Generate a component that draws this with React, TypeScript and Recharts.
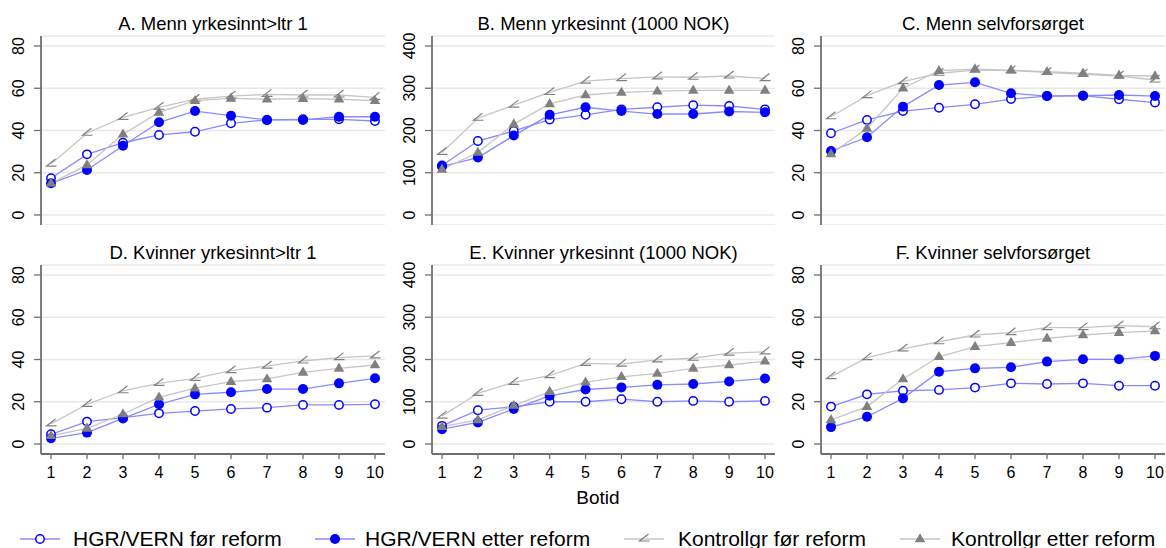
import React from "react";
import { LineChart, Line, XAxis, YAxis, CartesianGrid } from "recharts";

const botid = [1, 2, 3, 4, 5, 6, 7, 8, 9, 10];
const pctTicks = [0, 20, 40, 60, 80];
const nokTicks = [0, 100, 200, 300, 400];

const seriesNames = [
  "HGR/VERN før reform",
  "HGR/VERN etter reform",
  "Kontrollgr før reform",
  "Kontrollgr etter reform",
];

const panelTitles = [
  "A. Menn yrkesinnt>ltr 1",
  "B. Menn yrkesinnt (1000 NOK)",
  "C. Menn selvforsørget",
  "D. Kvinner yrkesinnt>ltr 1",
  "E. Kvinner yrkesinnt (1000 NOK)",
  "F. Kvinner selvforsørget",
];

// A. Menn yrkesinnt>ltr 1
const aHgrFor = [17.4, 28.7, 34.2, 37.9, 39.4, 43.4, 45.0, 45.3, 45.3, 44.5];
const aHgrEtter = [15.0, 21.3, 32.8, 43.9, 49.2, 47.0, 45.0, 45.0, 46.5, 46.5];
const aKtrFor = [24.1, 38.7, 46.2, 51.0, 54.8, 56.3, 57.1, 56.8, 56.8, 55.7];
const aKtrEtter = [15.0, 23.7, 38.2, 48.6, 54.1, 55.2, 54.8, 55.1, 54.8, 54.1];

// B. Menn yrkesinnt (1000 NOK)
const bHgrFor = [117, 175, 199, 226, 237, 250, 255, 260, 258, 250];
const bHgrEtter = [115, 136, 188, 237, 255, 246, 239, 239, 245, 243];
const bKtrFor = [148, 229, 260, 290, 317, 323, 327, 326, 329, 323];
const bKtrEtter = [108, 148, 215, 263, 284, 290, 293, 295, 295, 295];

// C. Menn selvforsørget
const cHgrFor = [38.7, 45.0, 49.2, 50.8, 52.4, 54.9, 56.3, 56.5, 54.8, 53.2];
const cHgrEtter = [30.3, 36.8, 51.3, 61.5, 62.8, 57.6, 56.3, 56.5, 56.8, 56.3];
const cKtrFor = [46.5, 56.5, 63.1, 67.1, 68.6, 68.3, 67.5, 66.6, 65.8, 63.9];
const cKtrEtter = [28.9, 41.0, 60.0, 68.3, 69.1, 68.6, 67.8, 67.1, 66.1, 65.8];

// D. Kvinner yrkesinnt>ltr 1
const dHgrFor = [4.6, 10.6, 12.5, 14.5, 15.6, 16.6, 17.2, 18.5, 18.5, 18.8];
const dHgrEtter = [2.7, 5.4, 12.1, 18.8, 23.5, 24.5, 26.0, 26.0, 28.7, 31.1];
const dKtrFor = [9.5, 18.8, 25.2, 28.7, 31.1, 34.7, 36.9, 39.3, 40.9, 41.7];
const dKtrEtter = [3.9, 7.4, 14.2, 22.1, 26.4, 29.5, 30.8, 33.9, 35.8, 37.4];

// E. Kvinner yrkesinnt (1000 NOK)
const eHgrFor = [43, 80, 88, 100, 100, 106, 100, 102, 100, 102];
const eHgrEtter = [35, 51, 83, 114, 129, 134, 140, 142, 148, 155];
const eKtrFor = [66, 120, 146, 162, 191, 189, 199, 203, 215, 218];
const eKtrEtter = [41, 57, 91, 124, 146, 159, 167, 179, 187, 196];

// F. Kvinner selvforsørget
const fHgrFor = [17.7, 23.5, 25.2, 25.6, 26.7, 28.7, 28.4, 28.7, 27.6, 27.6];
const fHgrEtter = [8.0, 12.9, 21.6, 34.2, 35.8, 36.3, 39.0, 40.1, 40.1, 41.7];
const fKtrFor = [31.9, 40.9, 45.0, 48.4, 51.6, 52.7, 55.1, 55.1, 56.0, 55.5];
const fKtrEtter = [11.4, 17.7, 30.8, 41.3, 46.1, 48.0, 50.0, 51.6, 52.7, 53.5];

const FONT = "'Liberation Sans', Arial, Helvetica, sans-serif";
const AXIS = "#707070";
const BLUE = "#0000ff";
const BLUE_LINE = "#8a8aff";
const GRAY_LINE = "#c6c6c6";
const GRAY_MARK = "#808080";

function buildRows(a: number[], b: number[], c: number[], d: number[]) {
  return botid.map((t, i) => ({ botid: t, hgrFor: a[i], hgrEtter: b[i], ktrFor: c[i], ktrEtter: d[i] }));
}

const OpenCircle = ({ cx, cy }: any) => (
  <circle cx={cx} cy={cy} r={4.2} fill="#ffffff" stroke={BLUE} strokeWidth={1.5} />
);
const FilledCircle = ({ cx, cy }: any) => <circle cx={cx} cy={cy} r={5} fill={BLUE} />;
const AngleMark = ({ cx, cy }: any) => (
  <path
    d={`M${cx + 4.5},${cy - 5} L${cx - 4.5},${cy + 2} L${cx + 5.5},${cy + 2}`}
    fill="none"
    stroke={GRAY_MARK}
    strokeWidth={1.2}
  />
);
const Triangle = ({ cx, cy }: any) => (
  <path d={`M${cx},${cy - 5.8} L${cx - 5.3},${cy + 3.3} L${cx + 5.3},${cy + 3.3} Z`} fill={GRAY_MARK} />
);

const PLOT_H = 189;
const LEFT_W = 41;
const TOP_M = 36;

type PanelProps = {
  plotLeft: number;
  plotTop: number;
  plotWidth: number;
  rows: any[];
  ticks: number[];
  showX: boolean;
};

function Panel({ plotLeft, plotTop, plotWidth, rows, ticks, showX }: PanelProps) {
  const xH = showX ? 40 : 0;
  const width = LEFT_W + plotWidth;
  const height = TOP_M + PLOT_H + xH;
  const yMax = ticks[ticks.length - 1];
  const YTick = (p: any) => (
    <text
      x={24}
      y={p.y}
      transform={`rotate(-90, 24, ${p.y})`}
      textAnchor="middle"
      fontSize={16}
      fontFamily={FONT}
      fill="#000"
    >
      {p.payload.value}
    </text>
  );
  const XTick = (p: any) => (
    <text x={p.x} y={TOP_M + PLOT_H + 24} textAnchor="middle" fontSize={16} fontFamily={FONT} fill="#000">
      {p.payload.value}
    </text>
  );
  return (
    <div style={{ position: "absolute", left: plotLeft - LEFT_W, top: plotTop - TOP_M, width, height }}>
      <LineChart width={width} height={height} data={rows} margin={{ top: TOP_M, right: 0, bottom: 0, left: 0 }}>
        <CartesianGrid vertical={false} stroke="#e8e8e8" strokeWidth={1.5} />
        <XAxis
          dataKey="botid"
          type="number"
          domain={[1, 10]}
          ticks={botid}
          padding={{ left: 10, right: 10 }}
          hide={!showX}
          height={xH}
          axisLine={{ stroke: AXIS, strokeWidth: 1.8 }}
          tickLine={{ stroke: AXIS, strokeWidth: 1.3 }}
          tickSize={5}
          tick={XTick}
          interval={0}
        />
        <YAxis
          type="number"
          domain={[0, yMax]}
          ticks={ticks}
          padding={{ top: 10, bottom: 10 }}
          width={LEFT_W}
          axisLine={{ stroke: AXIS, strokeWidth: 1.8 }}
          tickLine={{ stroke: AXIS, strokeWidth: 1.3 }}
          tickSize={7}
          tick={YTick}
          interval={0}
        />
        <Line
          dataKey="hgrFor"
          type="linear"
          stroke={BLUE_LINE}
          strokeWidth={1.3}
          isAnimationActive={false}
          activeDot={false}
          dot={(p: any) => <OpenCircle key={`o${p.index}`} cx={p.cx} cy={p.cy} />}
        />
        <Line
          dataKey="hgrEtter"
          type="linear"
          stroke={BLUE_LINE}
          strokeWidth={1.3}
          isAnimationActive={false}
          activeDot={false}
          dot={(p: any) => <FilledCircle key={`f${p.index}`} cx={p.cx} cy={p.cy} />}
        />
        <Line
          dataKey="ktrFor"
          type="linear"
          stroke={GRAY_LINE}
          strokeWidth={1.3}
          isAnimationActive={false}
          activeDot={false}
          dot={(p: any) => <AngleMark key={`a${p.index}`} cx={p.cx} cy={p.cy} />}
        />
        <Line
          dataKey="ktrEtter"
          type="linear"
          stroke={GRAY_LINE}
          strokeWidth={1.3}
          isAnimationActive={false}
          activeDot={false}
          dot={(p: any) => <Triangle key={`t${p.index}`} cx={p.cx} cy={p.cy} />}
        />
      </LineChart>
    </div>
  );
}

const panels = [
  { plotLeft: 41, plotTop: 36, plotWidth: 344, rows: buildRows(aHgrFor, aHgrEtter, aKtrFor, aKtrEtter), ticks: pctTicks, showX: false },
  { plotLeft: 432, plotTop: 36, plotWidth: 343, rows: buildRows(bHgrFor, bHgrEtter, bKtrFor, bKtrEtter), ticks: nokTicks, showX: false },
  { plotLeft: 821, plotTop: 36, plotWidth: 344, rows: buildRows(cHgrFor, cHgrEtter, cKtrFor, cKtrEtter), ticks: pctTicks, showX: false },
  { plotLeft: 41, plotTop: 265, plotWidth: 344, rows: buildRows(dHgrFor, dHgrEtter, dKtrFor, dKtrEtter), ticks: pctTicks, showX: true },
  { plotLeft: 432, plotTop: 265, plotWidth: 343, rows: buildRows(eHgrFor, eHgrEtter, eKtrFor, eKtrEtter), ticks: nokTicks, showX: true },
  { plotLeft: 821, plotTop: 265, plotWidth: 344, rows: buildRows(fHgrFor, fHgrEtter, fKtrFor, fKtrEtter), ticks: pctTicks, showX: true },
];

const legendItems = [
  { lineX: 20, textX: 73, color: BLUE_LINE, Mark: OpenCircle },
  { lineX: 315, textX: 365, color: BLUE_LINE, Mark: FilledCircle },
  { lineX: 624, textX: 678, color: GRAY_LINE, Mark: AngleMark },
  { lineX: 900, textX: 951, color: GRAY_LINE, Mark: Triangle },
];

export default function App() {
  return (
    <div
      style={{
        position: "absolute",
        left: 0,
        top: 0,
        width: 1166,
        height: 548,
        background: "#ffffff",
        fontFamily: FONT,
        overflow: "hidden",
      }}
    >
      <svg width={1166} height={548} style={{ position: "absolute", left: 0, top: 0 }}>
        {panels.map((p, i) => (
          <text
            key={i}
            x={p.plotLeft + p.plotWidth / 2}
            y={p.plotTop - 6.5}
            textAnchor="middle"
            fontSize={18.5}
            fontFamily={FONT}
            fill="#000"
          >
            {panelTitles[i]}
          </text>
        ))}
        <text x={598} y={504} textAnchor="middle" fontSize={19} fontFamily={FONT} fill="#000">
          Botid
        </text>
        {legendItems.map((it, i) => (
          <g key={i}>
            <line x1={it.lineX} y1={539} x2={it.lineX + 40} y2={539} stroke={it.color} strokeWidth={1.3} />
            <it.Mark cx={it.lineX + 20} cy={539} />
            <text x={it.textX} y={545.5} fontSize={21} fontFamily={FONT} fill="#000">
              {seriesNames[i]}
            </text>
          </g>
        ))}
      </svg>
      {panels.map((p, i) => (
        <Panel key={i} {...p} />
      ))}
    </div>
  );
}
